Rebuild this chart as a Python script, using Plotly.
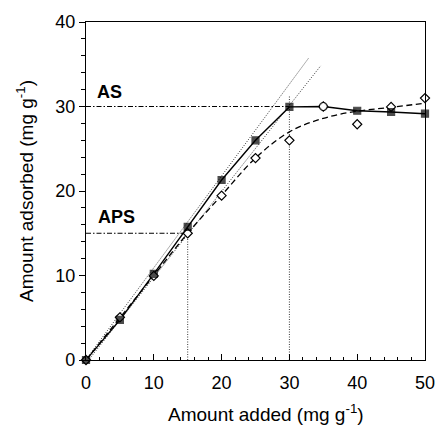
import plotly.graph_objects as go

# Data
added = [0, 5, 10, 15, 20, 25, 30, 35, 40, 45, 50]
as_vals = [0, 4.75, 10.2, 15.75, 21.3, 26.0, 29.95, 30.0, 29.5, 29.35, 29.15]
as_symbols = ["square"] * 7 + ["circle"] + ["square"] * 3
aps_vals = [0, 5.05, 9.95, 15.0, 19.45, 23.9, 26.0, 30.0, 27.9, 29.95, 31.0]
aps_fit = [0, 5.0, 10.0, 15.0, 19.5, 23.9, 27.0, 28.6, 29.45, 29.9, 30.4]

# tangent (initial slope) guide lines
tan1_x = [-0.6, 32.9]
tan1_y = [-0.6, 35.8]
tan2_x = [-0.6, 34.6]
tan2_y = [-1.0, 34.8]

# plateau / marker guide lines
as_level = 30.0
aps_level = 15.0
as_x = 30.0
aps_x = 15.0
as_vline_top = 31.3

FONT = "Arial, Liberation Sans, sans-serif"

fig = go.Figure()

dot = dict(color="#222", width=0.9, dash="1px,1.5px")
dashdot = dict(color="black", width=1, dash="5px,2px,1.5px,2px")

fig.add_trace(go.Scatter(x=tan1_x, y=tan1_y, mode="lines", line=dot, cliponaxis=False))
fig.add_trace(go.Scatter(x=tan2_x, y=tan2_y, mode="lines", line=dot, cliponaxis=False))
fig.add_trace(go.Scatter(x=[aps_x, aps_x], y=[0, aps_level], mode="lines", line=dot))
fig.add_trace(go.Scatter(x=[as_x, as_x], y=[0, as_vline_top], mode="lines", line=dot))
fig.add_trace(go.Scatter(x=[0, as_x], y=[as_level, as_level], mode="lines", line=dashdot))
fig.add_trace(go.Scatter(x=[0, aps_x], y=[aps_level, aps_level], mode="lines", line=dashdot))

# fitted dashed curve
fig.add_trace(go.Scatter(x=added, y=aps_fit, mode="lines",
                         line=dict(color="black", width=1.3, dash="6px,3.5px", shape="spline")))
# solid line through AS
fig.add_trace(go.Scatter(x=added, y=as_vals, mode="lines",
                         line=dict(color="black", width=1.4), cliponaxis=False))

# markers
fig.add_trace(go.Scatter(x=added, y=aps_vals, mode="markers", cliponaxis=False,
                         marker=dict(symbol="diamond", size=7, color="white",
                                     line=dict(color="black", width=1.2))))
fig.add_trace(go.Scatter(x=added, y=as_vals, mode="markers", cliponaxis=False,
                         marker=dict(symbol=as_symbols, size=[7] * 7 + [8] + [7] * 3,
                                     color=["black"] * 7 + ["white"] + ["black"] * 3,
                                     line=dict(color="black", width=1.2))))

fig.add_annotation(x=1.4, y=30.3, text="<b>AS</b>", showarrow=False,
                   xanchor="left", yanchor="bottom", font=dict(size=18, color="black", family=FONT))
fig.add_annotation(x=1.5, y=15.5, text="<b>APS</b>", showarrow=False,
                   xanchor="left", yanchor="bottom", font=dict(size=18, color="black", family=FONT))

# x-axis title placed as annotation (slightly right of centre as in the reference)
fig.add_annotation(x=0.53, y=0, xref="paper", yref="paper", yshift=-53,
                   text="Amount added (mg g<sup>-1</sup>)", showarrow=False,
                   xanchor="center", yanchor="middle", font=dict(size=19, color="black", family=FONT))

fig.update_layout(
    width=447, height=425,
    margin=dict(l=86, r=16, t=17, b=65),
    paper_bgcolor="white", plot_bgcolor="white",
    showlegend=False,
    font=dict(family=FONT, size=17, color="black"),
    xaxis=dict(range=[0, 50], tickvals=[0, 10, 20, 30, 40, 50], ticks="inside", ticklen=6,
               tickwidth=1, tickcolor="black", showline=True, linecolor="black", linewidth=1.2,
               mirror=True, showgrid=False, zeroline=False, tickfont=dict(size=18),
               ticklabelstandoff=6,
               minor=dict(dtick=2, ticks="inside", ticklen=3, tickcolor="black", showgrid=False)),
    yaxis=dict(range=[0, 40], tickvals=[0, 10, 20, 30, 40], ticks="outside", ticklen=6,
               tickwidth=1, tickcolor="black", showline=True, linecolor="black", linewidth=1.2,
               mirror=True, showgrid=False, zeroline=False, tickfont=dict(size=18),
               minor=dict(dtick=2, ticks="outside", ticklen=4, tickcolor="black", showgrid=False),
               title=dict(text="Amount adsorbed (mg g<sup>-1</sup>)", font=dict(size=19), standoff=16)),
)

fig.write_html("out.html")
